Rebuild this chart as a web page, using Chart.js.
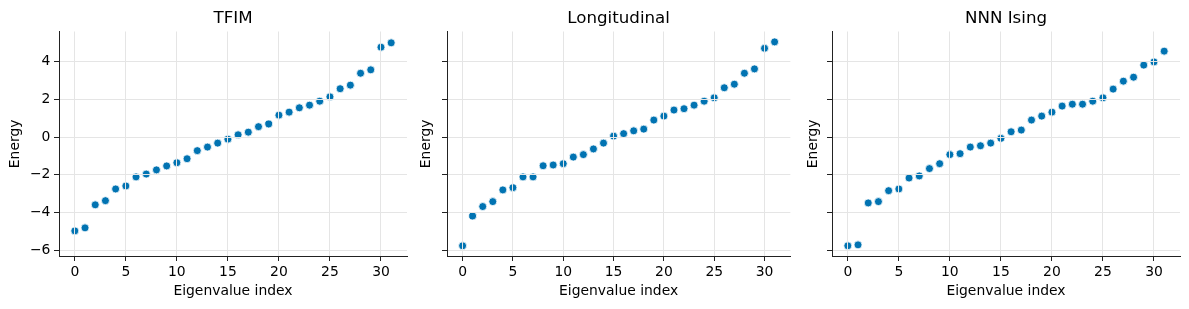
<!DOCTYPE html>
<html>
<head>
<meta charset="utf-8">
<script src="https://cdn.jsdelivr.net/npm/chart.js@4.4.1/dist/chart.umd.min.js"></script>
<style>
    html, body { margin: 0; padding: 0; background: #fff; }
    body { width: 1189px; height: 309px; position: relative; overflow: hidden; }
    canvas { position: absolute; top: 0; }
</style>
</head>
<body>
<canvas id="tfimChart" width="420" height="309" style="left:0px"></canvas>
<canvas id="longChart" width="385" height="309" style="left:410px"></canvas>
<canvas id="nnnChart" width="394" height="309" style="left:795px"></canvas>
<script>
// eigenvalue index along x
const eigenIndex = [0, 1, 2, 3, 4, 5, 6, 7, 8, 9, 10, 11, 12, 13, 14, 15,
    16, 17, 18, 19, 20, 21, 22, 23, 24, 25, 26, 27, 28, 29, 30, 31];

// sorted energies
const tfimEnergy = [-4.97, -4.81, -3.59, -3.37, -2.75, -2.59, -2.11, -1.96, -1.74, -1.53, -1.36, -1.15,
    -0.72, -0.53, -0.32, -0.11, 0.12, 0.26, 0.55, 0.69, 1.16, 1.32, 1.55, 1.69,
    1.90, 2.13, 2.56, 2.75, 3.38, 3.56, 4.76, 4.99];
const longEnergy = [-5.76, -4.18, -3.68, -3.42, -2.80, -2.68, -2.11, -2.11, -1.52, -1.48, -1.41, -1.06,
    -0.93, -0.63, -0.32, 0.05, 0.18, 0.33, 0.42, 0.90, 1.11, 1.43, 1.50, 1.69,
    1.90, 2.08, 2.61, 2.80, 3.38, 3.61, 4.70, 5.04];
const nnnEnergy = [-5.76, -5.71, -3.49, -3.42, -2.84, -2.75, -2.17, -2.06, -1.67, -1.41, -0.93, -0.88,
    -0.53, -0.46, -0.32, -0.07, 0.28, 0.37, 0.90, 1.11, 1.32, 1.64, 1.74, 1.74,
    1.90, 2.08, 2.54, 2.96, 3.17, 3.81, 3.98, 4.55];

const panelTitles = ['TFIM', 'Longitudinal', 'NNN Ising'];
const xTicks = [0, 5, 10, 15, 20, 25, 30];
const yTicks = [-6, -4, -2, 0, 2, 4];

Chart.defaults.font.family = "'DejaVu Sans', sans-serif";
Chart.defaults.color = '#000';

// grid sits on top of the markers in the original
const gridOnTop = {
    id: 'gridOnTop',
    afterDatasetsDraw(chart) {
        const area = chart.chartArea;
        chart.scales.x.drawGrid(area);
        chart.scales.y.drawGrid(area);
        chart.scales.x.drawBorder();
        chart.scales.y.drawBorder();
    }
};

// built-in title centres on the canvas; matplotlib centres it on the axes
const axesTitle = {
    id: 'axesTitle',
    afterDraw(chart, args, opts) {
        const { ctx, chartArea } = chart;
        ctx.save();
        ctx.font = "16.67px 'DejaVu Sans', sans-serif";
        ctx.fillStyle = '#000';
        ctx.textAlign = 'center';
        ctx.textBaseline = 'middle';
        ctx.fillText(opts.text, (chartArea.left + chartArea.right) / 2, 18.2);
        ctx.restore();
    }
};

function fmtTick(v) {
    return v < 0 ? '\u2212' + Math.abs(v) : String(v);
}

function makePanel(id, title, energies, yWidth, yTitlePad, rightPad, showYLabels) {
    const ctx = document.getElementById(id).getContext('2d');
    return new Chart(ctx, {
        type: 'scatter',
        data: {
            datasets: [{
                data: eigenIndex.map((x, i) => ({ x: x, y: energies[i] })),
                backgroundColor: '#0173b2',
                borderColor: '#ffffff',
                borderWidth: 0.8,
                pointRadius: 4,
                pointHoverRadius: 4
            }]
        },
        options: {
            responsive: false,
            animation: false,
            layout: { padding: { left: 0, right: rightPad, top: 31.7, bottom: 0 } },
            plugins: {
                legend: { display: false },
                tooltip: { enabled: false },
                title: { display: false },
                axesTitle: { text: title }
            },
            scales: {
                x: {
                    type: 'linear',
                    min: -1.55,
                    max: 32.55,
                    afterBuildTicks: s => { s.ticks = xTicks.map(v => ({ value: v })); },
                    afterFit: s => { s.height = 53; },
                    grid: { color: '#e5e5e5', lineWidth: 1, tickColor: '#222', tickLength: 5, tickWidth: 1 },
                    border: { display: true, color: '#222', width: 1 },
                    ticks: { padding: 3, color: '#000', font: { size: 13.9 }, maxRotation: 0, callback: fmtTick },
                    title: { display: true, text: 'Eigenvalue index', color: '#000', font: { size: 13.9 }, padding: { top: 0, bottom: 9.4 } }
                },
                y: {
                    type: 'linear',
                    min: -6.3,
                    max: 5.58,
                    afterBuildTicks: s => { s.ticks = yTicks.map(v => ({ value: v })); },
                    afterFit: s => { s.width = yWidth; },
                    grid: { color: '#e5e5e5', lineWidth: 1, tickColor: '#222', tickLength: 5, tickWidth: 1 },
                    border: { display: true, color: '#222', width: 1 },
                    ticks: { display: showYLabels, padding: 3.6, color: '#000', font: { size: 13.9 }, callback: fmtTick },
                    title: { display: true, text: 'Energy', color: '#000', font: { size: 13.9 }, padding: { top: yTitlePad, bottom: 0 } }
                }
            }
        },
        plugins: [gridOnTop, axesTitle]
    });
}

makePanel('tfimChart', panelTitles[0], tfimEnergy, 59, 7.2, 13, true);
makePanel('longChart', panelTitles[1], longEnergy, 37, 8.5, 2, false);
makePanel('nnnChart', panelTitles[2], nnnEnergy, 37, 10.5, 9, false);
</script>
</body>
</html>
